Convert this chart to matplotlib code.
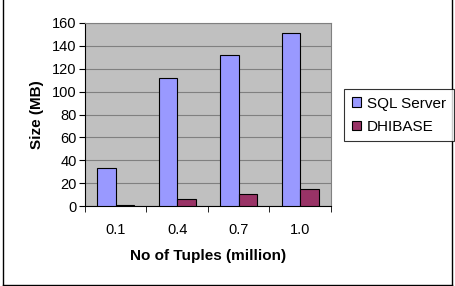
import matplotlib
matplotlib.use("Agg")
import matplotlib.pyplot as plt
import numpy as np
from matplotlib.patches import Rectangle
from matplotlib.lines import Line2D

categories = ["0.1", "0.4", "0.7", "1.0"]
sql_server = [33, 112, 132, 151]
dhibase = [1, 6, 10.5, 15]
series_names = ["SQL Server", "DHIBASE"]
yticks = [0, 20, 40, 60, 80, 100, 120, 140, 160]

plt.rcParams['font.family'] = ['Liberation Sans', 'DejaVu Sans']

W, H = 456, 286
fig = plt.figure(figsize=(W / 100, H / 100), dpi=100)
fig.patch.set_facecolor('white')

ax = fig.add_axes([85 / W, 1 - 206 / H, (331 - 85) / W, (206 - 23) / H])
ax.set_facecolor('#C0C0C0')

x = np.arange(len(categories))
bw = 0.3
ax.bar(x - bw / 2, sql_server, width=bw, color='#9999FF', edgecolor='black', linewidth=0.8,
       label=series_names[0], zorder=3)
ax.bar(x + bw / 2, dhibase, width=bw, color='#993366', edgecolor='black', linewidth=0.8,
       label=series_names[1], zorder=3)

ax.set_xlim(-0.5, len(categories) - 0.5)
ax.set_ylim(0, 160)
ax.set_yticks(yticks)
ax.set_yticklabels([str(v) for v in yticks], fontsize=10.5)
ax.yaxis.grid(True, color='#808080', linewidth=0.8, zorder=0)
ax.set_axisbelow(True)

ax.set_xticks(x)
ax.set_xticklabels(categories, fontsize=10.5)
ax.tick_params(axis='x', length=0, pad=12)
ax.set_xticks(np.arange(len(categories) + 1) - 0.5, minor=True)
ax.tick_params(axis='x', which='minor', length=4, direction='out', color='black')
ax.tick_params(axis='y', length=4, direction='out', pad=2, color='black')

for side in ['top', 'right']:
    ax.spines[side].set_color('#808080')
    ax.spines[side].set_linewidth(0.8)
for side in ['left', 'bottom']:
    ax.spines[side].set_color('black')
    ax.spines[side].set_linewidth(0.8)

ax.set_xlabel("No of Tuples (million)", fontsize=11, fontweight='bold', labelpad=9)
ax.set_ylabel("Size (MB)", fontsize=11, fontweight='bold', labelpad=6)

handles = [Rectangle((0, 0), 1, 1, facecolor='#9999FF', edgecolor='black', linewidth=0.8),
           Rectangle((0, 0), 1, 1, facecolor='#993366', edgecolor='black', linewidth=0.8)]
leg = fig.legend(handles, series_names, loc='upper left',
                 bbox_to_anchor=(344 / W, 1 - 89 / H), fontsize=11,
                 frameon=True, fancybox=False, edgecolor='black',
                 handlelength=0.6, handleheight=0.6, handletextpad=0.4,
                 borderpad=0.5, labelspacing=0.6, borderaxespad=0)
leg.get_frame().set_linewidth(0.8)

# outer border (no top line visible in reference)
fig.add_artist(Line2D([3.5 / W, 3.5 / W], [1 - 284.5 / H, 1.0], color='black', linewidth=1.0,
                      transform=fig.transFigure))
fig.add_artist(Line2D([452.5 / W, 452.5 / W], [1 - 284.5 / H, 1.0], color='black', linewidth=1.0,
                      transform=fig.transFigure))
fig.add_artist(Line2D([3.5 / W, 452.5 / W], [1 - 284.5 / H, 1 - 284.5 / H], color='black',
                      linewidth=1.0, transform=fig.transFigure))

fig.savefig("out.png", dpi=100)
